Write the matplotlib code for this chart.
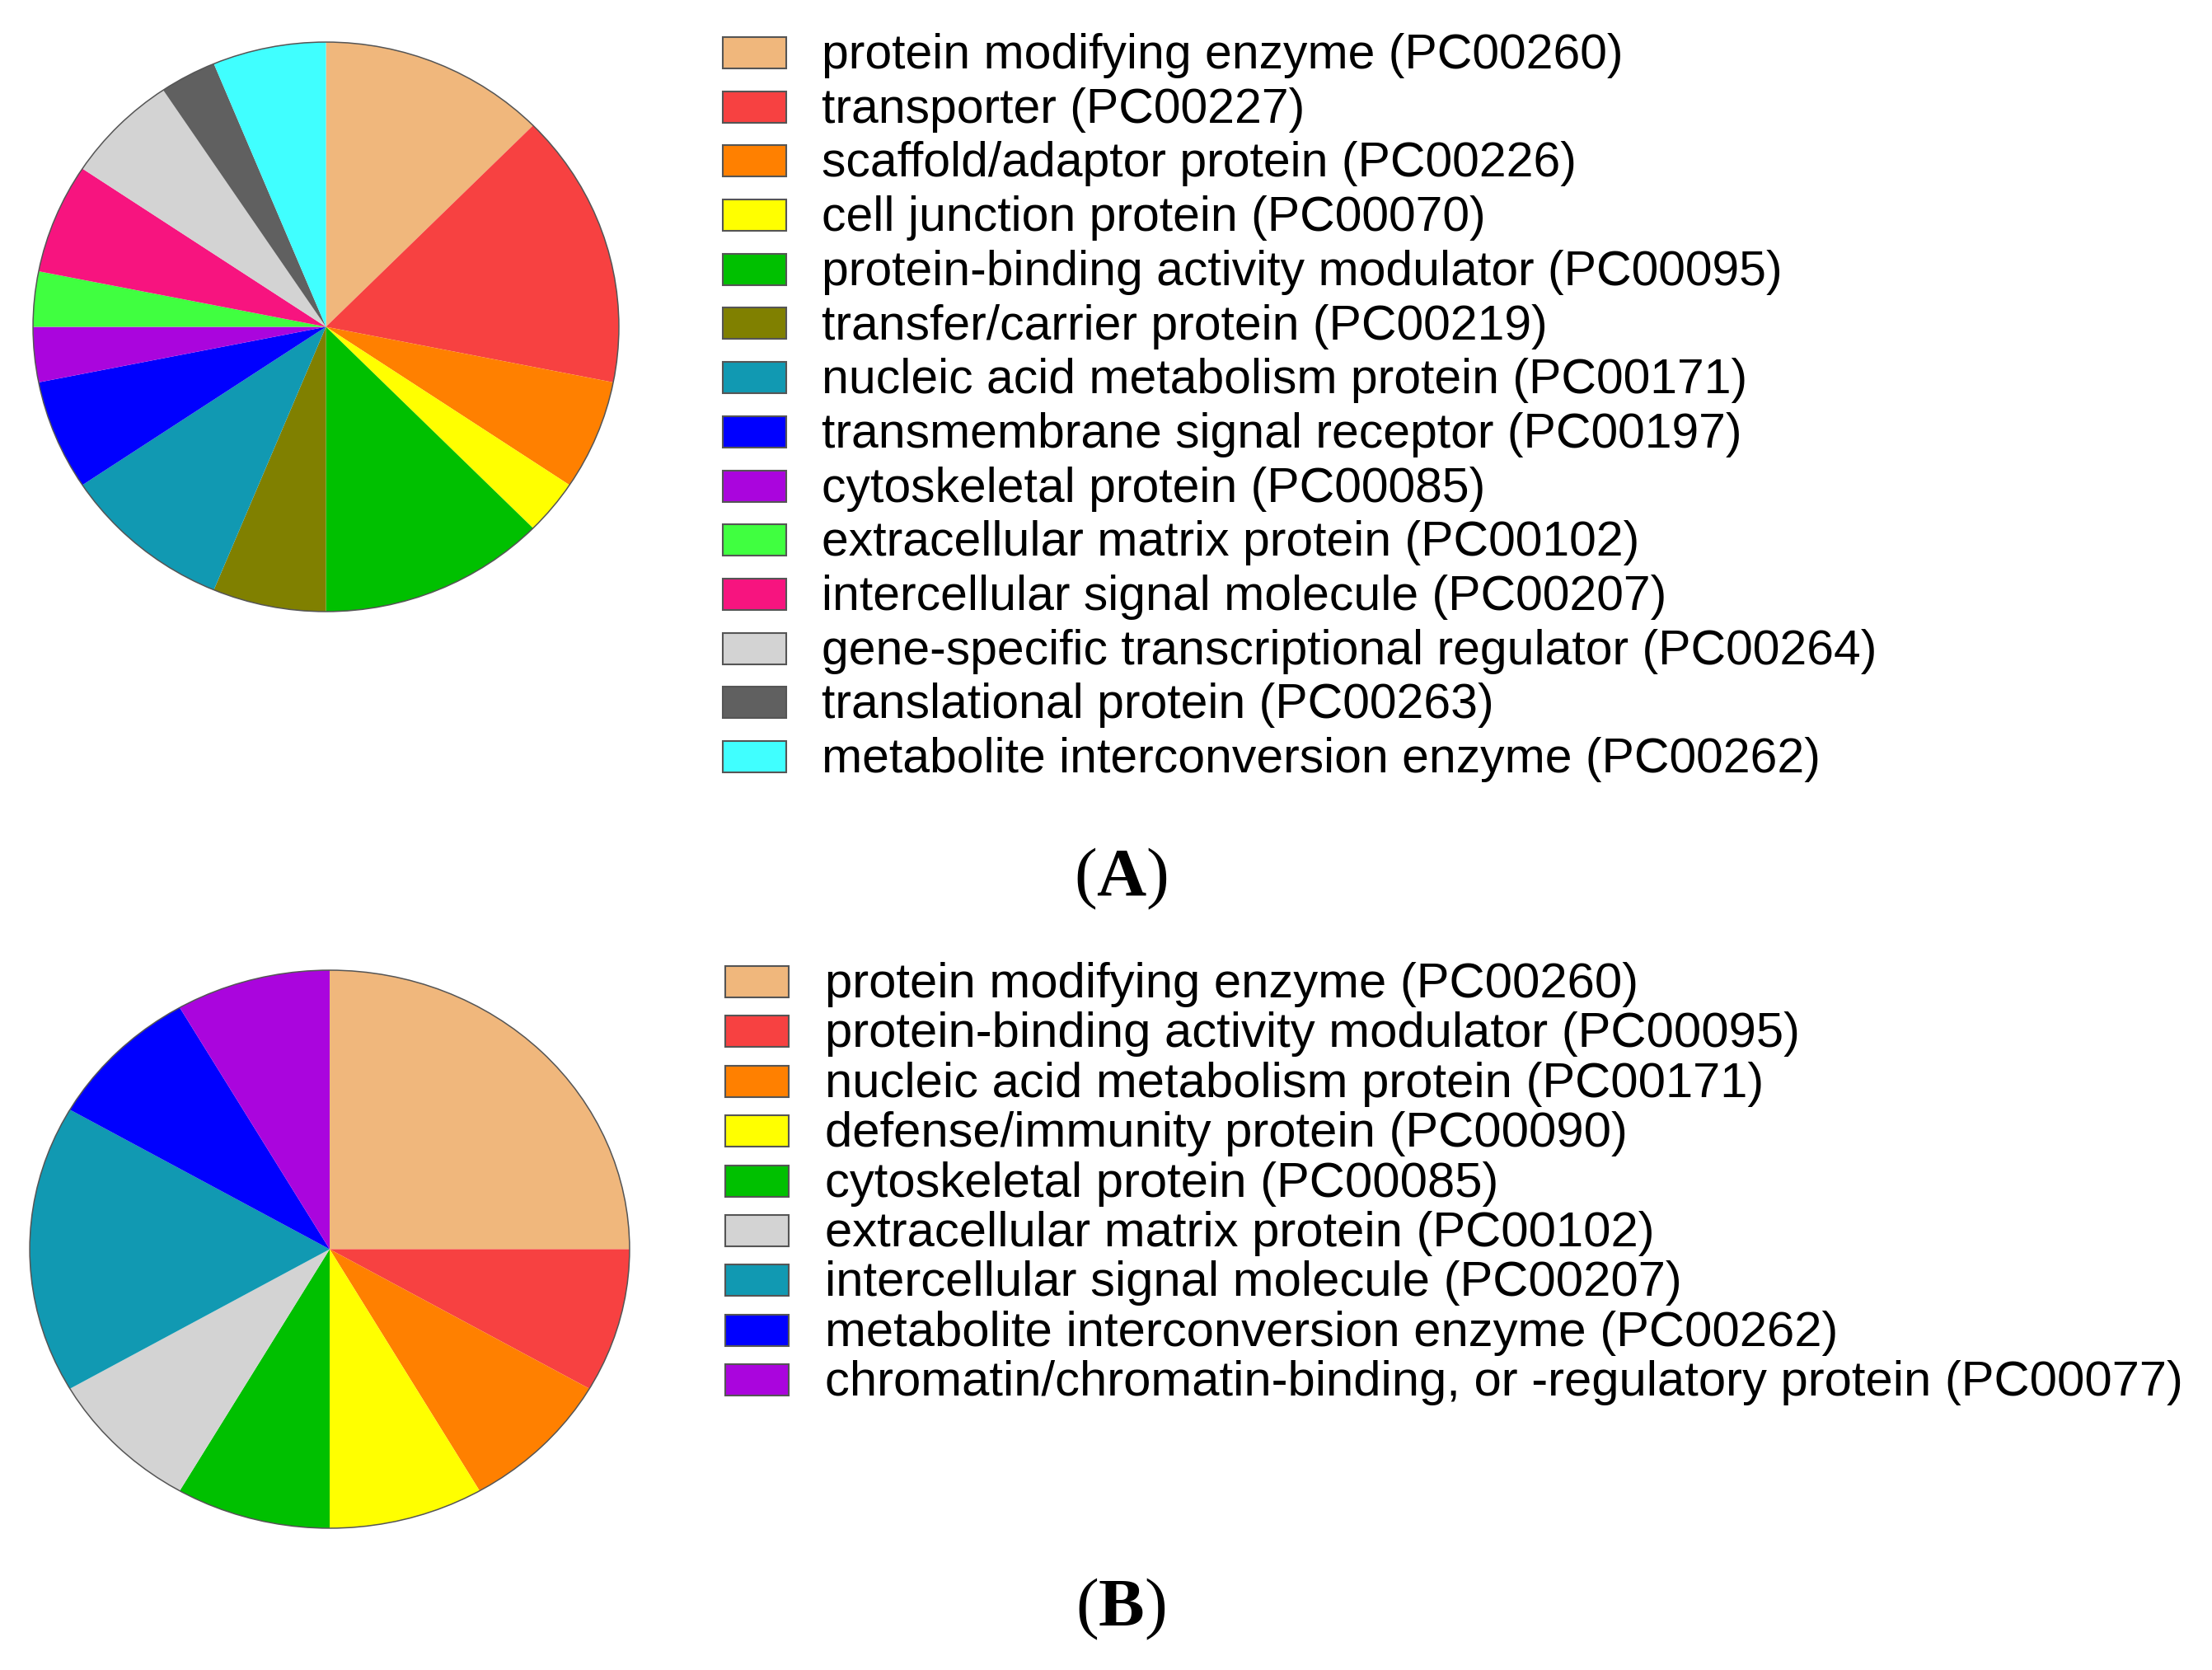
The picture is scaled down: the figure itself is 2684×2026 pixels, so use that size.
import matplotlib
matplotlib.use("Agg")
import matplotlib.pyplot as plt
from matplotlib.patches import Rectangle, Circle

plt.rcParams["mathtext.fontset"] = "custom"
plt.rcParams["mathtext.rm"] = "Liberation Serif"
plt.rcParams["mathtext.bf"] = "Liberation Serif:bold"

# panel A
labels_a = ["protein modifying enzyme (PC00260)",
            "transporter (PC00227)",
            "scaffold/adaptor protein (PC00226)",
            "cell junction protein (PC00070)",
            "protein-binding activity modulator (PC00095)",
            "transfer/carrier protein (PC00219)",
            "nucleic acid metabolism protein (PC00171)",
            "transmembrane signal receptor (PC00197)",
            "cytoskeletal protein (PC00085)",
            "extracellular matrix protein (PC00102)",
            "intercellular signal molecule (PC00207)",
            "gene-specific transcriptional regulator (PC00264)",
            "translational protein (PC00263)",
            "metabolite interconversion enzyme (PC00262)"]
counts_a = [4, 5, 2, 1, 4, 2, 3, 2, 1, 1, 2, 2, 1, 2]
colors_a = ["#F0B77C", "#F74141", "#FF8000", "#FFFF00", "#00C000", "#808000",
            "#1199B2", "#0000FF", "#AA05DD", "#40FF40", "#F7147F", "#D3D3D3",
            "#606060", "#40FFFF"]

# panel B
labels_b = ["protein modifying enzyme (PC00260)",
            "protein-binding activity modulator (PC00095)",
            "nucleic acid metabolism protein (PC00171)",
            "defense/immunity protein (PC00090)",
            "cytoskeletal protein (PC00085)",
            "extracellular matrix protein (PC00102)",
            "intercellular signal molecule (PC00207)",
            "metabolite interconversion enzyme (PC00262)",
            "chromatin/chromatin-binding, or -regulatory protein (PC00077)"]
counts_b = [3, 1, 1, 1, 1, 1, 2, 1, 1]
colors_b = ["#F0B77C", "#F74141", "#FF8000", "#FFFF00", "#00C000", "#D3D3D3",
            "#1199B2", "#0000FF", "#AA05DD"]

W, H = 2684, 2026
fig = plt.figure(figsize=(W / 100, H / 100), dpi=100)
fig.patch.set_facecolor("white")


def fx(x):
    return x / W


def fy(y):
    return 1 - y / H


def draw_pie(box, counts, colors):
    # box = left, top, right, bottom in pixels
    l, t, r, b = box
    ax = fig.add_axes([fx(l), fy(b), (r - l) / W, (b - t) / H])
    ax.pie(counts, colors=colors, startangle=90, counterclock=False,
           radius=1, wedgeprops=dict(linewidth=0, antialiased=True))
    ax.add_patch(Circle((0, 0), 1, fill=False, edgecolor="#555555", linewidth=1.1))
    ax.set_aspect("auto")
    ax.set_xlim(-1.003, 1.003)
    ax.set_ylim(-1.003, 1.003)
    ax.axis("off")


def draw_legend(labels, colors, x_box, x_txt, y0, step, fs):
    for i, (lab, c) in enumerate(zip(labels, colors)):
        yb = y0 + i * step
        fig.patches.append(Rectangle((fx(x_box), fy(yb)), 77 / W, 38 / H,
                                     transform=fig.transFigure, facecolor=c,
                                     edgecolor="#555555", linewidth=1.5))
        fig.text(fx(x_txt), fy(yb), lab, fontsize=fs, family="Liberation Sans",
                 ha="left", va="baseline", color="black")


draw_pie((39, 50, 752, 743), counts_a, colors_a)
draw_pie((35, 1176, 765, 1855), counts_b, colors_b)

draw_legend(labels_a, colors_a, 877, 997, 83, 65.7, 42.4)
draw_legend(labels_b, colors_b, 880, 1001, 1210, 60.4, 43)

fig.text(fx(1360), fy(1086), r"$\mathrm{(}\mathbf{A}\mathrm{)}$", fontsize=60,
         ha="center", va="baseline")
fig.text(fx(1360), fy(1972), r"$\mathrm{(}\mathbf{B}\mathrm{)}$", fontsize=60,
         ha="center", va="baseline")

fig.savefig("out.png", dpi=100, facecolor="white")
